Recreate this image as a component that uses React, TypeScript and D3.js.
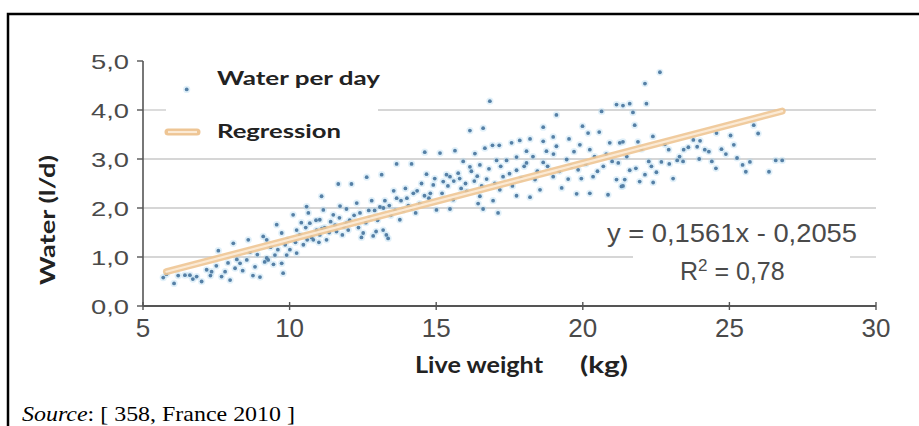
import React from "react";
import * as d3 from "d3";

// ---- data ----
const xTicks = [5, 10, 15, 20, 25, 30];
const yTicks = [0, 1, 2, 3, 4, 5];
const gridValues = [1, 2, 3, 4];
const slope = 0.1561;
const intercept = -0.2055;
const regressionRange = [5.8, 26.8];

// live weight (kg), water (l/d) — 5 to 10 kg
const pointsA: [number, number][] = [
  [5.69, 0.58], [5.8, 0.65], [6.06, 0.46], [6.2, 0.62], [6.43, 0.63], [6.49, 4.42], [6.6, 0.63],
  [6.7, 0.55], [6.83, 0.6], [7.0, 0.5], [7.17, 0.74], [7.3, 0.62], [7.34, 0.7], [7.5, 0.82],
  [7.57, 1.13], [7.68, 0.6], [7.8, 0.7], [7.9, 0.88], [7.97, 0.53], [8.08, 1.28], [8.14, 0.77],
  [8.2, 0.95], [8.31, 0.87], [8.4, 0.72], [8.54, 0.94], [8.59, 1.35], [8.65, 1.1], [8.75, 0.62],
  [8.82, 0.8], [8.9, 1.05], [8.99, 0.59], [9.1, 1.42], [9.15, 0.9], [9.22, 0.98], [9.22, 1.35],
  [9.27, 0.94], [9.35, 1.2], [9.45, 0.85], [9.5, 1.04], [9.56, 1.66], [9.6, 1.15], [9.73, 1.49],
  [9.73, 0.87], [9.78, 0.67], [9.85, 1.25], [9.9, 1.04], [9.95, 1.35],
];
// 10 to 15 kg
const pointsB: [number, number][] = [
  [10.01, 1.15], [10.12, 1.86], [10.2, 1.3], [10.24, 1.55], [10.24, 1.08], [10.35, 1.45],
  [10.4, 1.7], [10.47, 1.25], [10.55, 1.6], [10.58, 2.03], [10.6, 1.35], [10.64, 1.9],
  [10.69, 1.69], [10.75, 1.4], [10.81, 1.35], [10.9, 1.75], [10.92, 1.55], [11.0, 1.3],
  [11.03, 1.76], [11.03, 1.45], [11.09, 2.24], [11.1, 1.58], [11.15, 1.96], [11.2, 1.6],
  [11.26, 1.35], [11.35, 1.5], [11.4, 1.72], [11.49, 1.86], [11.55, 1.65], [11.6, 1.52],
  [11.66, 2.49], [11.7, 1.8], [11.72, 2.04], [11.8, 1.45], [11.85, 1.62], [11.94, 1.98],
  [11.94, 1.69], [12.0, 1.55], [12.05, 1.75], [12.11, 2.49], [12.2, 1.85], [12.29, 2.1],
  [12.35, 1.6], [12.4, 1.9], [12.45, 1.4], [12.51, 1.49], [12.6, 1.7], [12.63, 2.63],
  [12.7, 1.95], [12.74, 1.79], [12.8, 2.15], [12.85, 1.43], [12.9, 1.95], [12.95, 1.52],
  [13.0, 1.75], [13.08, 2.02], [13.14, 2.68], [13.19, 1.55], [13.2, 2.0], [13.25, 2.15],
  [13.3, 1.45], [13.36, 1.38], [13.4, 2.05], [13.45, 1.85], [13.55, 2.35], [13.6, 1.95],
  [13.65, 2.9], [13.65, 2.2], [13.76, 1.76], [13.8, 2.15], [13.87, 1.96], [13.95, 2.4],
  [14.0, 2.2], [14.05, 2.05], [14.15, 2.0], [14.16, 2.9], [14.22, 2.3], [14.3, 1.9],
  [14.35, 2.35], [14.44, 2.09], [14.5, 2.5], [14.6, 2.25], [14.61, 3.14], [14.67, 2.69],
  [14.75, 2.2], [14.8, 2.3], [14.9, 2.47], [14.95, 2.6], [15.01, 1.96],
];
// 15 to 20 kg
const pointsC: [number, number][] = [
  [15.13, 3.12], [15.2, 2.3], [15.24, 2.54], [15.35, 2.68], [15.4, 2.45], [15.47, 1.98],
  [15.47, 2.64], [15.58, 2.17], [15.6, 2.55], [15.64, 3.17], [15.75, 2.71], [15.8, 2.6],
  [15.85, 2.4], [15.92, 2.95], [16.0, 2.5], [16.04, 2.34], [16.15, 3.58], [16.15, 2.84],
  [16.2, 2.75], [16.3, 2.55], [16.32, 3.11], [16.4, 2.65], [16.43, 2.09], [16.49, 2.88],
  [16.49, 2.24], [16.55, 2.45], [16.6, 3.63], [16.6, 1.98], [16.66, 3.22], [16.72, 2.59],
  [16.8, 2.8], [16.83, 4.18], [16.92, 3.28], [16.94, 2.15], [17.0, 2.5], [17.06, 2.97],
  [17.11, 1.9], [17.15, 3.28], [17.17, 2.37], [17.2, 2.85], [17.28, 2.64], [17.4, 2.97],
  [17.5, 2.7], [17.57, 3.33], [17.6, 2.45], [17.74, 3.04], [17.74, 2.77], [17.74, 2.25],
  [17.85, 3.38], [17.9, 2.6], [18.0, 2.85], [18.08, 3.16], [18.08, 2.92], [18.2, 3.41],
  [18.2, 2.22], [18.3, 3.05], [18.37, 2.58], [18.45, 2.75], [18.54, 2.37], [18.65, 3.65],
  [18.65, 3.36], [18.65, 2.93], [18.76, 3.16], [18.8, 2.85], [18.99, 3.45], [18.99, 2.64],
  [19.0, 3.1], [19.1, 3.9], [19.1, 3.26], [19.2, 2.75], [19.28, 2.41], [19.45, 2.99],
  [19.5, 2.59], [19.53, 3.41], [19.6, 2.85], [19.7, 3.15], [19.79, 2.29], [19.84, 2.78],
  [19.9, 3.29], [19.95, 2.6], [19.99, 3.67],
];
// 20 to 27 kg
const pointsD: [number, number][] = [
  [20.1, 2.9], [20.18, 3.53], [20.24, 3.19], [20.24, 2.3], [20.35, 2.64], [20.4, 3.05],
  [20.5, 2.75], [20.56, 3.55], [20.64, 3.97], [20.7, 2.85], [20.8, 3.1], [20.86, 2.27],
  [20.92, 3.33], [21.0, 2.95], [21.15, 4.11], [21.15, 2.58], [21.21, 2.92], [21.26, 3.33],
  [21.32, 2.44], [21.37, 4.09], [21.37, 3.35], [21.37, 2.45], [21.43, 2.58], [21.5, 3.05],
  [21.6, 4.13], [21.6, 2.77], [21.71, 3.95], [21.77, 3.69], [21.81, 2.81], [21.88, 3.35],
  [21.94, 2.54], [22.0, 3.2], [22.12, 4.54], [22.12, 2.68], [22.17, 4.13], [22.25, 2.95],
  [22.34, 2.85], [22.39, 3.46], [22.4, 2.52], [22.51, 2.73], [22.63, 4.77], [22.68, 2.94],
  [22.8, 3.3], [22.93, 3.19], [22.95, 2.9], [23.08, 2.6], [23.22, 2.97], [23.3, 3.05],
  [23.42, 2.95], [23.44, 3.19], [23.6, 3.24], [23.77, 3.39], [23.9, 3.25], [23.97, 3.0],
  [24.0, 3.37], [24.16, 3.19], [24.3, 3.15], [24.4, 2.95], [24.54, 2.81], [24.56, 3.53],
  [24.73, 3.2], [24.88, 3.1], [25.04, 3.48], [25.15, 3.29], [25.26, 3.02], [25.45, 2.88],
  [25.56, 2.74], [25.7, 2.94], [25.83, 3.69], [25.98, 3.52], [26.35, 2.74], [26.58, 2.97],
  [26.8, 2.97],
];

const W = 919;
const H = 426;

export default function App() {
  const x = d3.scaleLinear().domain([5, 30]).range([143, 876]);
  const y = d3.scaleLinear().domain([0, 5]).range([306, 61]);
  const locale = d3.formatLocale({ decimal: ",", thousands: ".", grouping: [3], currency: ["", "€"] });
  const fmtY = locale.format(".1f");
  const points = [...pointsA, ...pointsB, ...pointsC, ...pointsD];
  const regLine = d3
    .line<number>()
    .x((d) => x(d))
    .y((d) => y(slope * d + intercept))(regressionRange);

  const sans = "'Liberation Sans', Arial, sans-serif";
  const bold = "Lato, 'Open Sans', sans-serif";
  const gridColor = "#c9c9c9";

  // gridline segments with gaps for legend (at 4) and equation (at 1)
  const gridSegs: { v: number; x1: number; x2: number }[] = [];
  gridValues.forEach((v) => {
    if (v === 4) {
      gridSegs.push({ v, x1: x(5), x2: 166 });
      gridSegs.push({ v, x1: 378, x2: x(30) });
    } else if (v === 1) {
      gridSegs.push({ v, x1: x(5), x2: 633 });
      gridSegs.push({ v, x1: 850, x2: x(30) });
    } else {
      gridSegs.push({ v, x1: x(5), x2: x(30) });
    }
  });

  return (
    <svg
      width={W}
      height={H}
      style={{ position: "absolute", left: 0, top: 0, background: "#fff" }}
    >
      <rect x={8} y={14} width={1000} height={1000} fill="#fff" stroke="#000" strokeWidth={2.5} />

      {gridSegs.map((g, i) => (
        <line key={i} x1={g.x1} x2={g.x2} y1={y(g.v)} y2={y(g.v)} stroke={gridColor} strokeWidth={1.3} />
      ))}

      {/* axes */}
      <line x1={x(5)} x2={x(5)} y1={y(5)} y2={y(0)} stroke="#555" strokeWidth={1.6} />
      <line x1={x(5)} x2={x(30)} y1={y(0)} y2={y(0)} stroke="#555" strokeWidth={2} />
      {yTicks.map((t) => (
        <g key={"y" + t}>
          <line x1={x(5) - 6} x2={x(5)} y1={y(t)} y2={y(t)} stroke="#555" strokeWidth={1.4} />
          <text
            x={129}
            y={y(t) + 7.5}
            textAnchor="end"
            fontFamily={sans}
            fontSize={21}
            fill="#4a4a4a"
            textLength={38}
            lengthAdjust="spacingAndGlyphs"
          >
            {fmtY(t)}
          </text>
        </g>
      ))}
      {xTicks.map((t) => (
        <g key={"x" + t}>
          <line x1={x(t)} x2={x(t)} y1={y(0) - 4} y2={y(0) + 4} stroke="#555" strokeWidth={1.4} />
          <text x={x(t)} y={337} textAnchor="middle" fontFamily={sans} fontSize={26} fill="#4a4a4a">
            {t}
          </text>
        </g>
      ))}

      {/* points */}
      {points.map((p, i) => (
        <circle key={"h" + i} cx={x(p[0])} cy={y(p[1])} r={3.6} fill="#a9d3ef" opacity={0.35} />
      ))}
      {points.map((p, i) => (
        <circle key={"p" + i} cx={x(p[0])} cy={y(p[1])} r={1.9} fill="#5580a6" />
      ))}

      {/* regression */}
      <path d={regLine || ""} fill="none" stroke="#eec594" strokeWidth={7} strokeLinecap="round" opacity={0.9} />
      <path d={regLine || ""} fill="none" stroke="#fbead5" strokeWidth={2.2} strokeLinecap="round" />

      {/* legend */}
      <text x={217} y={85} fontFamily={bold} fontWeight="bold" fontSize={19} fill="#222" textLength={163} lengthAdjust="spacingAndGlyphs">
        Water per day
      </text>
      <line x1={168} x2={197} y1={132} y2={132} stroke="#eec594" strokeWidth={7} strokeLinecap="round" />
      <line x1={168} x2={197} y1={132} y2={132} stroke="#fbead5" strokeWidth={2.2} />
      <text x={217} y={138} fontFamily={bold} fontWeight="bold" fontSize={19} fill="#222" textLength={124} lengthAdjust="spacingAndGlyphs">
        Regression
      </text>

      {/* equation */}
      <text x={607} y={242} fontFamily={sans} fontSize={25} fill="#4a4a4a" textLength={250} lengthAdjust="spacingAndGlyphs">
        y = 0,1561x - 0,2055
      </text>
      <text x={680} y={280} fontFamily={sans} fontSize={25} fill="#4a4a4a">
        R<tspan dy={-9} fontSize={17}>2</tspan>
        <tspan dy={9}> = 0,78</tspan>
      </text>

      {/* axis titles */}
      <text x={415} y={373} fontFamily={bold} fontWeight="bold" fontSize={22} fill="#222" textLength={128} lengthAdjust="spacingAndGlyphs">
        Live weight
      </text>
      <text x={580} y={373} fontFamily={bold} fontWeight="bold" fontSize={22} fill="#222" textLength={48} lengthAdjust="spacingAndGlyphs">
        (kg)
      </text>
      <text
        transform="translate(55,220) rotate(-90)"
        textAnchor="middle"
        fontFamily={bold}
        fontWeight="bold"
        fontSize={21}
        fill="#222"
        textLength={130}
        lengthAdjust="spacingAndGlyphs"
      >
        Water (l/d)
      </text>

      {/* source */}
      <text
        x={22}
        y={421}
        fontFamily="'Liberation Serif', 'Times New Roman', serif"
        fontSize={21}
        fill="#000"
        textLength={273}
        lengthAdjust="spacingAndGlyphs"
      >
        <tspan fontStyle="italic">Source</tspan>: [ 358, France 2010 ]
      </text>
    </svg>
  );
}
